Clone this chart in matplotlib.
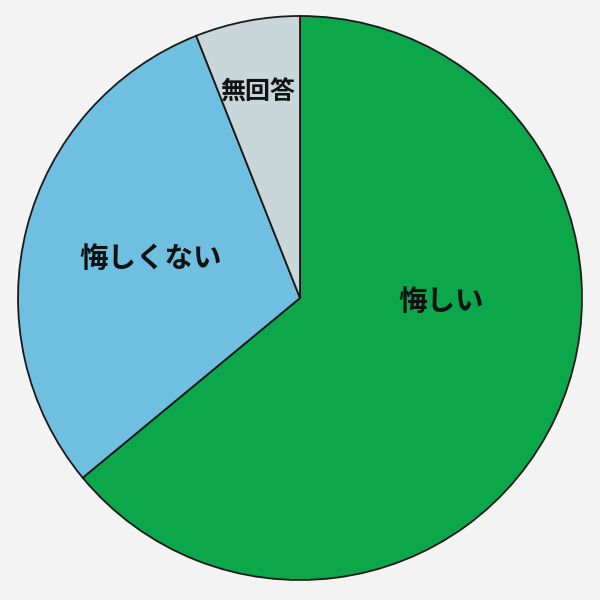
import matplotlib
matplotlib.use("Agg")
import matplotlib.pyplot as plt

plt.rcParams["font.family"] = ["Noto Sans CJK JP", "DejaVu Sans"]

# ==== data ====
labels = ["悔しい", "悔しくない", "無回答"]
values = [64, 30, 6]
colors = ["#0ba74a", "#6fbfe0", "#c9d6da"]

# label spots (relative to the pie centre, in radius units) and font sizes
label_pos = [(0.50, -0.015), (-0.53, 0.14), (-0.15, 0.73)]
label_size = [20.5, 20.5, 18]


def main() -> None:
    fig = plt.figure(figsize=(6, 6), dpi=100)
    fig.patch.set_facecolor("#f3f3f3")
    ax = fig.add_axes([0, 0, 1, 1])
    ax.set_facecolor("#f3f3f3")

    ax.pie(
        values,
        colors=colors,
        startangle=90,
        counterclock=False,
        radius=1.0,
        wedgeprops=dict(edgecolor="#1a1a1a", linewidth=1.3),
    )

    for text, (dx, dy), fs in zip(labels, label_pos, label_size):
        ax.text(dx, dy, text, ha="center", va="center", fontsize=fs,
                fontweight="bold", color="#111111")

    # pie radius ~282 px, centre at (300, 298) px from top-left
    r_px = 282.0
    ax.set_xlim(-300 / r_px, 300 / r_px)
    ax.set_ylim(-302 / r_px, 298 / r_px)
    ax.set_aspect("equal")
    ax.axis("off")

    fig.savefig("out.png", dpi=100, facecolor=fig.get_facecolor())
    plt.close(fig)


if __name__ == "__main__":
    main()
